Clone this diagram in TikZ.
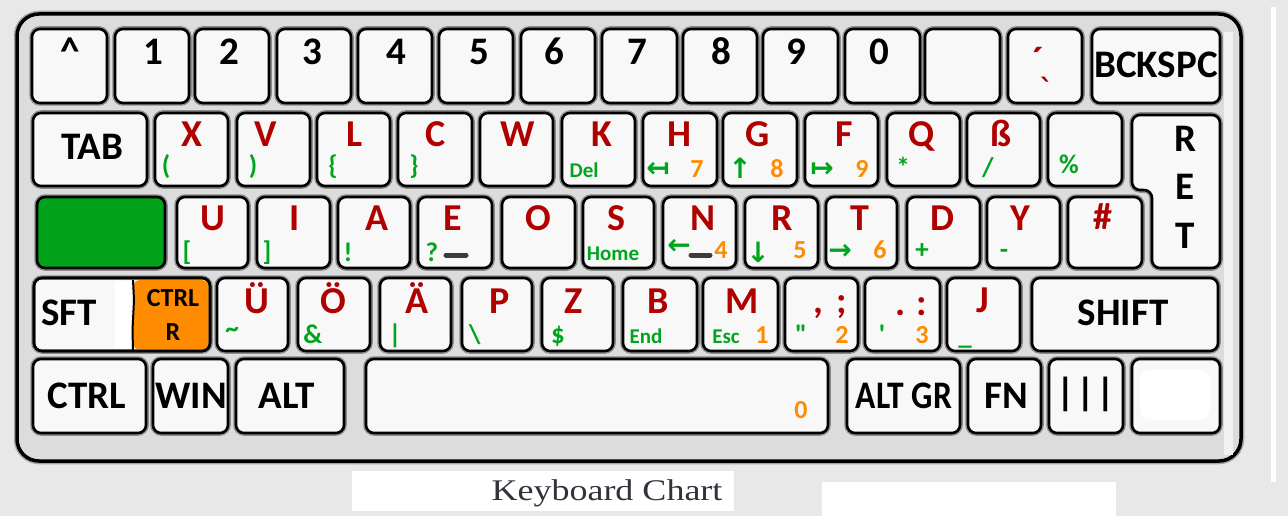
\documentclass[tikz,border=0pt]{standalone}
\usepackage{fontspec}
\usepackage{graphicx}
\setmainfont{Carlito}
\newfontfamily\arrowfont{DejaVu Sans}
\newfontfamily\qfont{Carlito}[Ligatures=TeXOff]
\newfontfamily\capfont[FakeStretch=1.2]{Liberation Serif}
\definecolor{kred}{RGB}{176,0,0}
\definecolor{kgreen}{RGB}{0,165,30}
\definecolor{korange}{RGB}{255,140,0}
\definecolor{keyfill}{RGB}{248,248,248}
\definecolor{framefill}{RGB}{220,220,220}
\definecolor{bgfill}{RGB}{232,232,232}
\definecolor{barfill}{RGB}{60,60,60}
\definecolor{capcol}{RGB}{50,50,60}
\definecolor{keygreen}{RGB}{0,163,26}
\tikzset{
  keybox/.style={draw=black, line width=2.6pt, rounded corners=8pt, fill=keyfill,
    preaction={draw=black!45, line width=5.5pt}, inner sep=0pt, outer sep=0pt},
  framebox/.style={draw=black, line width=3.5pt, rounded corners=22pt, fill=framefill,
    preaction={draw=black!35, line width=6.5pt}, inner sep=0pt},
  blk/.style={anchor=base, inner sep=0pt, text=black, font=\fontsize{39}{39}\selectfont\bfseries},
  blksmall/.style={anchor=base, inner sep=0pt, text=black, font=\fontsize{26}{26}\selectfont\bfseries},
  rlab/.style={anchor=base, inner sep=0pt, text=kred, font=\fontsize{38}{38}\selectfont\bfseries},
  glab/.style={anchor=base, inner sep=0pt, text=kgreen, font=\fontsize{21}{21}\selectfont\bfseries},
  gsym/.style={anchor=base, inner sep=0pt, text=kgreen, font=\fontsize{27}{27}\selectfont\bfseries},
  gq/.style={anchor=base, inner sep=0pt, text=kgreen, font=\qfont\fontsize{27}{27}\selectfont\bfseries},
  olab/.style={anchor=base, inner sep=0pt, text=korange, font=\fontsize{26}{26}\selectfont\bfseries},
  garr/.style={anchor=center, inner sep=0pt, text=kgreen, font=\arrowfont\fontsize{28}{28}\selectfont\bfseries},
  gbar/.style={draw=barfill, line width=5pt, line cap=round},
  caption/.style={anchor=base, inner sep=0pt, text=capcol, font=\capfont\fontsize{30}{30}\selectfont}
}
\newcommand\kk[6][]{\node[keybox,#1,minimum width={#5-#3},minimum height={#6-#4}] (#2) at ({(#3+#5)/2},{(#4+#6)/2}) {};}
\begin{document}
\begin{tikzpicture}[x=1pt,y=-1pt]
\fill[bgfill] (0,0) rectangle (1288,516);
\useasboundingbox (0,0) rectangle (1288,516);
% right white strip and bottom white boxes
\fill[white] (1271,7) rectangle (1276,482);
\fill[white] (352,471) rectangle (734,511);
\fill[white] (822,482) rectangle (1116,516);
% frame
\node[framebox, minimum width=1224, minimum height=447] (frame) at (629,237.5) {};
\fill[white!60!framefill] (1224,32) rectangle (1233,455);
% ---- row 1
\kk{kcaret}{32}{29}{107}{103}
\kk{k1}{115}{29}{189}{103}
\kk{k2}{195}{29}{269}{103}
\kk{k3}{277}{29}{351}{103}
\kk{k4}{358}{29}{432}{103}
\kk{k5}{439}{29}{513}{103}
\kk{k6}{521}{29}{595}{103}
\kk{k7}{602}{29}{677}{103}
\kk{k8}{683}{29}{757}{103}
\kk{k9}{763}{29}{838}{103}
\kk{k0}{845}{29}{920}{103}
\kk{kblank}{925}{29}{1000}{103}
\kk{kacc}{1008}{29}{1082}{103}
\kk{kbs}{1092}{29}{1220}{103}
\node[blk] (tcaret) at (70,65) {\textasciicircum};
\node[blk] (t1) at (153,65) {1};
\node[blk] (t2) at (229,65) {2};
\node[blk] (t3) at (312,65) {3};
\node[blk] (t4) at (396,65) {4};
\node[blk] (t5) at (479,65) {5};
\node[blk] (t6) at (554,65) {6};
\node[blk] (t7) at (637,65) {7};
\node[blk] (t8) at (721,65) {8};
\node[blk] (t9) at (796,65) {9};
\node[blk] (t0) at (879,65) {0};
\node[rlab] (tacc) at (1043,74) {\char"00B4\kern-4pt\raisebox{-26pt}{\arrowfont\fontsize{28}{28}\selectfont\char"0060}};
\node[blk] (tbs) at (1156,78) {BCKSPC};
% ---- row 2
\kk{ktab}{33}{113}{147}{186}
\kk{kx}{155}{113}{228}{186}
\kk{kv}{237}{113}{310}{186}
\kk{kl}{317}{113}{390}{186}
\kk{kc}{398}{113}{472}{186}
\kk{kw}{480}{113}{553}{186}
\kk{kk}{562}{113}{635}{186}
\kk{kh}{643}{113}{717}{186}
\kk{kg}{723}{113}{797}{186}
\kk{kf}{805}{113}{878}{186}
\kk{kq}{887}{113}{960}{186}
\kk{ksz}{967}{113}{1040}{186}
\kk{kpct}{1048}{113}{1122}{186}
\draw[keybox] (1132,115) -- (1220,115) -- (1220,268) -- (1152,268) -- (1152,190) -- (1132,190) -- cycle;
\coordinate (kret) at (1186,190);
\node[blk] (ttab) at (92,160) {TAB};
\node[rlab] (tx) at (192,147) {X};
\node[gsym] (tx2) at (166,175) {(};
\node[rlab] (tv) at (266,147) {V};
\node[gsym] (tv2) at (253,175) {)};
\node[rlab] (tl) at (355,147) {L};
\node[gsym] (tl2) at (333,175) {\{};
\node[rlab] (tc) at (436,147) {C};
\node[gsym] (tc2) at (414,175) {\}};
\node[rlab] (tw) at (518,147) {W};
\node[rlab] (tk) at (602,147) {K};
\node[glab] (tk2) at (584,178) {Del};
\node[rlab] (th) at (679,147) {H};
\node[garr] (th2) at (658,170) {↤};
\node[olab] (th3) at (697,177) {7};
\node[rlab] (tg) at (758,147) {G};
\node[garr] (tg2) at (740,168) {↑};
\node[olab] (tg3) at (777,177) {8};
\node[rlab] (tf) at (844,147) {F};
\node[garr] (tf2) at (822,170) {↦};
\node[olab] (tf3) at (862,177) {9};
\node[rlab] (tq) at (922,147) {Q};
\node[gsym] (tq2) at (903,176) {*};
\node[rlab] (tsz) at (1001,147) {ß};
\node[gsym] (tsz2) at (988,176) {/};
\node[gsym] (tpct) at (1069,173) {\%};
\node[blk] (tret1) at (1185,152) {R};
\node[blk] (tret2) at (1185,200) {E};
\node[blk] (tret3) at (1185,248) {T};
% ---- row 3
\kk[fill=keygreen]{kgrn}{37}{197}{165}{268}
\kk{ku}{177}{197}{248}{268}
\kk{ki}{257}{197}{330}{268}
\kk{ka}{338}{197}{410}{268}
\kk{ke}{418}{197}{492}{268}
\kk{ko}{502}{197}{575}{268}
\kk{ks}{583}{197}{654}{268}
\kk{kn}{663}{197}{736}{268}
\kk{kr}{745}{197}{818}{268}
\kk{kt}{826}{197}{897}{268}
\kk{kd}{907}{197}{980}{268}
\kk{ky}{987}{197}{1060}{268}
\kk{khash}{1068}{197}{1142}{268}
\node[rlab] (tu) at (213,230) {U};
\node[gsym] (tu2) at (187,260) {[};
\node[rlab] (ti) at (295,230) {I};
\node[gsym] (ti2) at (267,260) {]};
\node[rlab] (ta) at (377,230) {A};
\node[gsym] (ta2) at (348,261) {!};
\node[rlab] (te) at (453,230) {E};
\node[gsym] (te2) at (432,261) {?};
\draw[gbar] (446,255) -- (466,255);
\node[rlab] (to) at (538,230) {O};
\node[rlab] (ts) at (616,230) {S};
\node[glab] (ts2) at (613,260) {Home};
\node[rlab] (tn) at (703,230) {N};
\node[garr] (tn2) at (679,247) {←};
\draw[gbar] (691,255) -- (710,255);
\node[olab] (tn3) at (721,258) {4};
\node[rlab] (tr) at (782,230) {R};
\node[garr] (tr2) at (758,252) {↓};
\node[olab] (tr3) at (800,258) {5};
\node[rlab] (tt) at (860,230) {T};
\node[garr] (tt2) at (840,252) {→};
\node[olab] (tt3) at (880,258) {6};
\node[rlab] (td) at (942,230) {D};
\node[gsym] (td2) at (922,258) {+};
\node[rlab] (ty) at (1020,230) {Y};
\node[gsym] (ty2) at (1004,258) {-};
\node[rlab] (thash) at (1103,229) {\#};
% ---- row 4
\kk{ksft}{34}{278}{210}{351}
\fill[white] (115,281) rectangle (131,348);
\fill[korange, rounded corners=7pt] (133,280) rectangle (208.7,349.7);
\draw[black, line width=2pt] (133,280) -- (134,300) -- (132.5,330) -- (133,350);
\draw[draw=black, line width=2.6pt, rounded corners=8pt] (ksft.north west) rectangle (ksft.south east);
\coordinate (kctrlr) at (171,314);
\kk{kue}{217}{278}{288}{351}
\kk{koe}{298}{278}{370}{351}
\kk{kae}{380}{278}{451}{351}
\kk{kp}{462}{278}{532}{351}
\kk{kz}{542}{278}{613}{351}
\kk{kb}{623}{278}{697}{351}
\kk{km}{703}{278}{778}{351}
\kk{kcomma}{785}{278}{858}{351}
\kk{kdot}{865}{278}{940}{351}
\kk{kj}{947}{278}{1020}{351}
\kk{kshift}{1032}{278}{1218}{351}
\node[blk] (tsft) at (69,325) {SFT};
\node[blksmall] (tctrl) at (173,306) {CTRL};
\node[blksmall] (tctrlr) at (173,340) {R};
\node[rlab] (tue) at (257,313) {Ü};
\node[gsym] (tue2) at (232,337) {\textasciitilde};
\node[rlab] (toe) at (333,313) {Ö};
\node[gsym] (toe2) at (313,343) {\&};
\node[rlab] (tae) at (417,313) {Ä};
\node[gsym] (tae2) at (395,343) {|};
\node[rlab] (tp) at (500,313) {P};
\node[gsym] (tp2) at (475,343) {\textbackslash};
\node[rlab] (tz) at (574,313) {Z};
\node[gsym] (tz2) at (558,343) {\$};
\node[rlab] (tb) at (658,313) {B};
\node[glab] (tb2) at (646,343) {End};
\node[rlab] (tm) at (742,313) {M};
\node[glab] (tm2) at (726,343) {Esc};
\node[olab] (tm3) at (762,343) {1};
\node[rlab] (tcomma) at (818,313) {,};
\node[rlab] (tsemi) at (842,313) {;};
\node[gq] (tcomma2) at (801,343) {"};
\node[olab] (tcomma3) at (842,343) {2};
\node[rlab] (tdot) at (901,315) {.};
\node[rlab] (tcolon) at (922,315) {:};
\node[gq] (tdot2) at (882,343) {'};
\node[olab] (tdot3) at (922,343) {3};
\node[rlab] (tj) at (983,312) {J};
\node[gsym] (tj2) at (965,344) {\_};
\node[blk] (tshift) at (1123,325) {SHIFT};
% ---- row 5
\kk{kctrl}{33}{359}{146}{433}
\kk{kwin}{153}{359}{228}{433}
\kk{kalt}{236}{359}{344}{433}
\kk{kspace}{366}{359}{828}{433}
\kk{kaltgr}{847}{359}{960}{433}
\kk{kfn}{968}{359}{1041}{433}
\kk{kbars}{1049}{359}{1123}{433}
\kk{kblank2}{1132}{359}{1220}{433}
\fill[white, rounded corners=10pt] (1140,370) rectangle (1210,420);
\node[blk] (tctrl5) at (87,408) {CTRL};
\node[blk] (twin) at (191,408) {WIN};
\node[blk] (talt) at (287,408) {ALT};
\node[olab] (tspace) at (801,418) {0};
\node[blk] (taltgr) at (904,408) {\scalebox{0.86}[1]{ALT GR}};
\node[blk] (tfn) at (1006,408) {FN};
\node[blk] (tbar1) at (1066,405) {|};
\node[blk] (tbar2) at (1086,405) {|};
\node[blk] (tbar3) at (1106,405) {|};
% caption
\node[caption] (cap) at (607,500) {Keyboard Chart};
\end{tikzpicture}
\end{document}
